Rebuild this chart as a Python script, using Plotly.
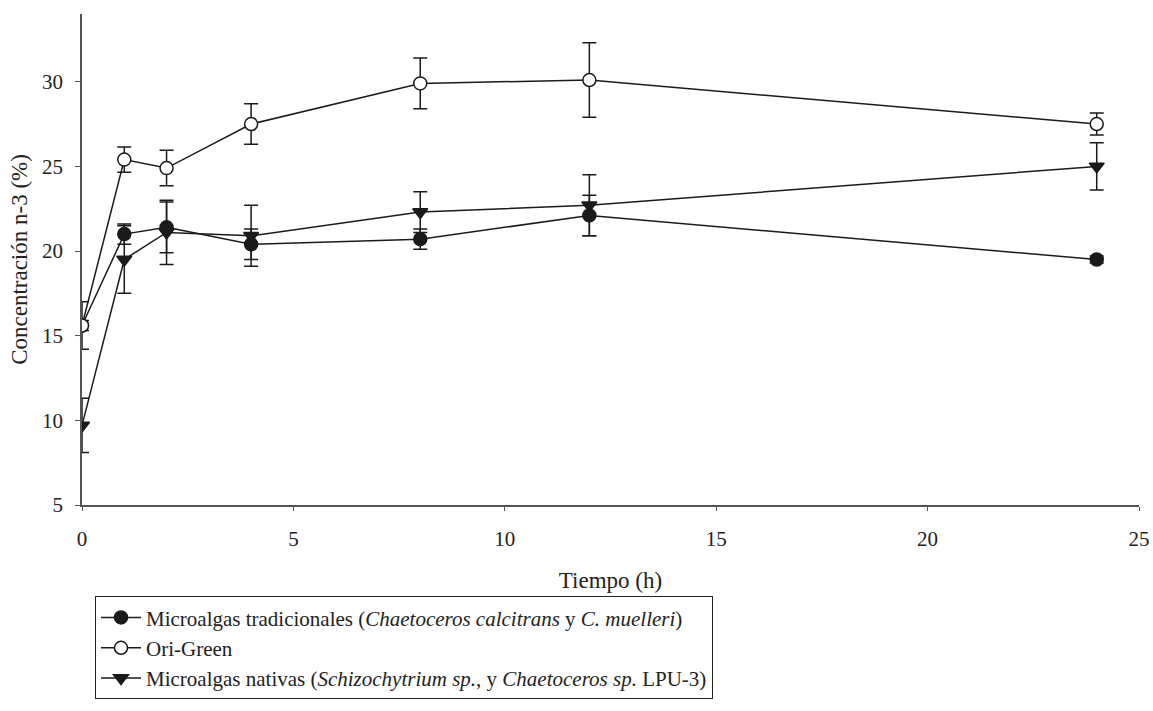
import plotly.graph_objects as go

tiempo = [0, 1, 2, 4, 8, 12, 24]

trad_y = [15.6, 21.0, 21.4, 20.4, 20.7, 22.1, 19.5]
trad_err = [0.3, 0.6, 1.5, 0.9, 0.6, 1.2, 0.2]

ori_y = [15.6, 25.4, 24.9, 27.5, 29.9, 30.1, 27.5]
ori_err = [1.4, 0.75, 1.05, 1.2, 1.5, 2.2, 0.65]

nat_y = [9.7, 19.5, 21.1, 20.9, 22.3, 22.7, 25.0]
nat_err = [1.6, 2.0, 1.9, 1.8, 1.2, 1.8, 1.4]

names = [
    "Microalgas tradicionales (<i>Chaetoceros calcitrans</i> y <i>C. muelleri</i>)",
    "Ori-Green",
    "Microalgas nativas (<i>Schizochytrium sp.</i>, y <i>Chaetoceros sp.</i> LPU-3)",
]

ink = "#1a1a1a"
font_family = "Liberation Serif, Times New Roman, serif"

fig = go.Figure()

def add(y, err, name, symbol, fill, size):
    fig.add_trace(go.Scatter(
        x=tiempo, y=y, name=name, mode="lines+markers",
        line=dict(color=ink, width=1.5),
        marker=dict(symbol=symbol, size=size, color=fill,
                    line=dict(color=ink, width=1.5)),
        error_y=dict(type="data", array=err, visible=True,
                     color=ink, thickness=1.5, width=7),
    ))

add(trad_y, trad_err, names[0], "circle", ink, 13)
add(ori_y, ori_err, names[1], "circle", "white", 13)
add(nat_y, nat_err, names[2], "triangle-down", ink, 13)

fig.update_layout(
    width=1153, height=711,
    margin=dict(l=82, r=14, t=14, b=203),
    paper_bgcolor="white", plot_bgcolor="white",
    font=dict(family=font_family, size=21, color="#222"),
    showlegend=True,
    legend=dict(
        x=0.0123, y=-0.186, xanchor="left", yanchor="top",
        bordercolor="#222", borderwidth=1, bgcolor="white",
        font=dict(family=font_family, size=21, color="#222"),
        tracegroupgap=0, itemwidth=40,
    ),
)

fig.update_xaxes(
    range=[0, 25], tickvals=[0, 5, 10, 15, 20, 25],
    showline=True, linecolor="#555", linewidth=1.5,
    ticks="outside", ticklen=4, tickcolor="#555",
    showgrid=False, zeroline=False, automargin=False,
    ticklabelstandoff=10,
    title=dict(text="Tiempo (h)", standoff=22,
               font=dict(family=font_family, size=23, color="#222")),
)
fig.update_yaxes(
    range=[5, 34], tickvals=[5, 10, 15, 20, 25, 30],
    showline=True, linecolor="#555", linewidth=1.5,
    ticks="outside", ticklen=5, tickcolor="#555",
    showgrid=False, zeroline=False, automargin=False,
    ticklabelstandoff=8,
    title=dict(text="Concentración n-3 (%)", standoff=8,
               font=dict(family=font_family, size=23, color="#222")),
)

fig.write_html(
    "out.html",
    config={"displayModeBar": False},
    post_script="document.body.style.margin='0';document.body.style.overflow='hidden';",
)
